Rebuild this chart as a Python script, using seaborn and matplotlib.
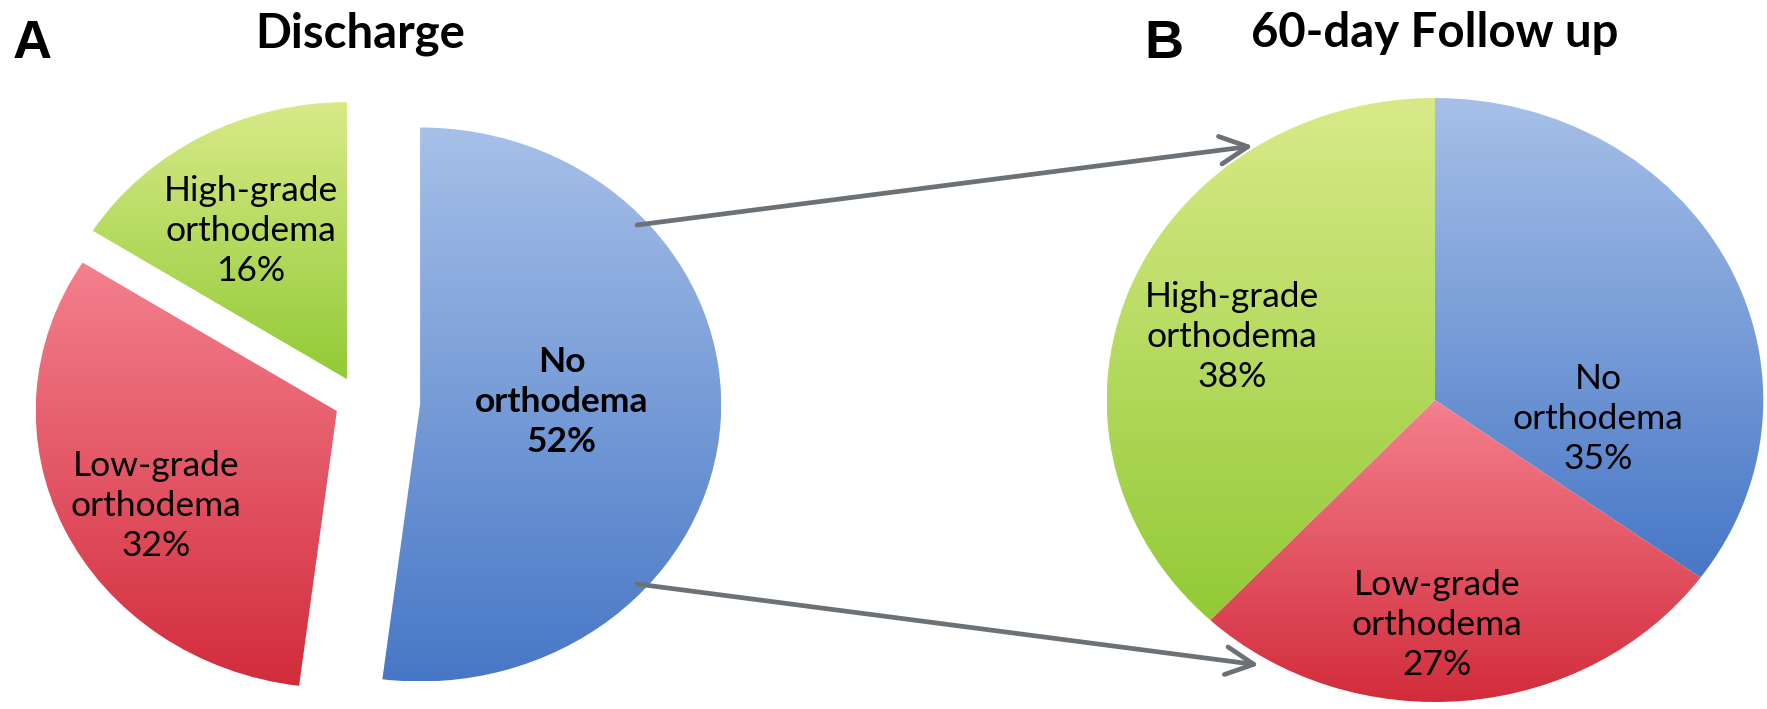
import numpy as np
import matplotlib
matplotlib.use("Agg")
import matplotlib.pyplot as plt
import seaborn as sns
from matplotlib.patches import FancyArrowPatch, ArrowStyle

# ---- data -------------------------------------------------------------
categories = ["No orthodema", "Low-grade orthodema", "High-grade orthodema"]
discharge_pct = [52, 32, 16]
followup_pct = [35, 27, 38]
panel_titles = ["Discharge", "60-day Follow up"]
panel_letters = ["A", "B"]

# ---- style ------------------------------------------------------------
shade_top = ["#a6c0e8", "#f4808e", "#d8ea88"]
shade_bottom = ["#4777c6", "#d22c3b", "#92ca36"]
discharge_explode = [0.2, 0.085, 0.09]  # fraction of the radius

W, H = 1767, 709
SX = 1.087  # pies are drawn slightly wider than tall


def px(x, y):
    """Figure pixel position (origin top-left) -> data coordinates."""
    return x / SX, H - y


sns.set_theme(style="white")
plt.rcParams["font.family"] = ["Lato", "DejaVu Sans"]

fig = plt.figure(figsize=(W / 100, H / 100), dpi=100)
ax = fig.add_axes([0, 0, 1, 1])


def gradient_pie(values, center, radius, explode=None):
    if explode is not None:
        explode = [e * radius for e in explode]
    wedges, _ = ax.pie(values, colors=shade_top, startangle=90,
                       counterclock=False, explode=explode,
                       center=center, radius=radius,
                       wedgeprops=dict(linewidth=0))
    grad = np.linspace(0, 1, 256).reshape(-1, 1)
    for w, top, bot in zip(wedges, shade_top, shade_bottom):
        ext = w.get_path().get_extents()
        cmap = sns.blend_palette([bot, top], as_cmap=True)
        im = ax.imshow(grad, cmap=cmap, origin="lower", aspect="auto",
                       extent=(ext.x0, ext.x1, ext.y0, ext.y1),
                       interpolation="bilinear", zorder=2)
        im.set_clip_path(w)
        w.set_facecolor("none")
    return wedges


gradient_pie(discharge_pct, px(360, 401), 277, explode=discharge_explode)
gradient_pie(followup_pct, px(1435, 400), 302)


def label_text(name, pct):
    first, rest = name.split(" ", 1)
    return f"{first}\n{rest}\n{pct}%"


left_label_xy = [(562, 402), (156, 506), (251, 231)]
right_label_xy = [(1598, 419), (1437, 625), (1232, 337)]

for i, (name, pct, xy) in enumerate(zip(categories, discharge_pct, left_label_xy)):
    ax.text(*px(*xy), label_text(name, pct), ha="center", va="center",
            multialignment="center", fontsize=25.5, linespacing=1.3,
            fontweight="bold" if i == 0 else "normal", color="black", zorder=5)

for name, pct, xy in zip(categories, followup_pct, right_label_xy):
    ax.text(*px(*xy), label_text(name, pct), ha="center", va="center",
            multialignment="center", fontsize=25.5, linespacing=1.3,
            color="black", zorder=5)

# transition arrows
arrow_style = ArrowStyle("->", head_length=1.0, head_width=0.5)
for start, end in [((637, 225), (1253, 146)), ((637, 584), (1259, 665))]:
    ax.add_patch(FancyArrowPatch(px(*start), px(*end), arrowstyle=arrow_style,
                                 mutation_scale=20, color="#6b7175", lw=3.4,
                                 shrinkA=0, shrinkB=0, zorder=4))

# panel titles and letters
for title, cx in zip(panel_titles, [360, 1435]):
    ax.text(*px(cx, 47), title, ha="center", va="baseline", fontsize=34,
            fontweight="bold", color="black")
for letter, lx in zip(panel_letters, [13, 1144]):
    ax.text(*px(lx, 58), letter, ha="left", va="baseline", fontsize=39,
            fontweight="bold", family=["Liberation Sans", "DejaVu Sans"],
            color="black")

ax.set_xlim(0, W / SX)
ax.set_ylim(0, H)
ax.set_aspect("auto")
ax.axis("off")

fig.savefig("out.png", dpi=100)
